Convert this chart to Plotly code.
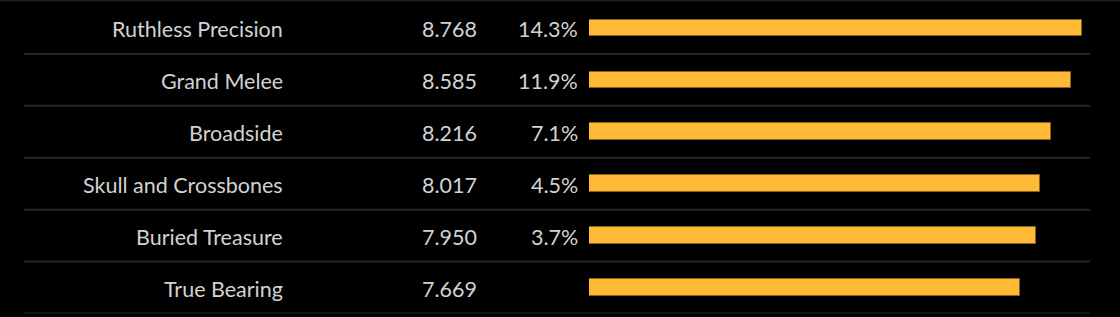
import plotly.graph_objects as go

names = ["Ruthless Precision", "Grand Melee", "Broadside", "Skull and Crossbones", "Buried Treasure", "True Bearing"]
values = [8.768, 8.585, 8.216, 8.017, 7.950, 7.669]
pct_labels = ["14.3%", "11.9%", "7.1%", "4.5%", "3.7%", ""]

W, H = 1120, 317
BAR_COLOR = "#FFBA35"
TEXT_COLOR = "#D2D2D2"
GRID = "#262626"
FONT = "Lato"
FS = 21.5

fig = go.Figure()
fig.add_trace(go.Bar(
    x=values, y=list(range(len(names))), orientation="h",
    width=0.32,
    marker=dict(color=BAR_COLOR, line=dict(color="#8a6220", width=1)),
    hoverinfo="skip",
))

top_px, bot_px = 2, 313.5
fig.update_layout(
    width=W, height=H,
    margin=dict(l=0, r=0, t=0, b=0),
    paper_bgcolor="#000000", plot_bgcolor="#000000",
    showlegend=False,
    bargap=0,
    xaxis=dict(range=[0, 8.915], domain=[589 / W, 1090 / W], visible=False, fixedrange=True),
    yaxis=dict(range=[len(names) - 0.5, -0.5], domain=[1 - bot_px / H, 1 - top_px / H],
               visible=False, fixedrange=True),
    font=dict(family=FONT, color=TEXT_COLOR),
)

# row separator lines
for i in range(len(names)):
    fig.add_shape(type="line", xref="paper", yref="y", x0=24 / W, x1=1090 / W,
                  y0=i + 0.5, y1=i + 0.5, line=dict(color=GRID, width=2), layer="below")
fig.add_shape(type="line", xref="paper", yref="paper", x0=0, x1=1, y0=1 - 0.5 / H, y1=1 - 0.5 / H,
              line=dict(color="#1c1c1c", width=2))

for i, (n, v, p) in enumerate(zip(names, values, pct_labels)):
    common = dict(xref="paper", y=i, yref="y", showarrow=False, xanchor="right", yanchor="middle",
                  yshift=-1, font=dict(size=FS, family=FONT, color=TEXT_COLOR))
    fig.add_annotation(x=285 / W, text=n, **common)
    fig.add_annotation(x=479 / W, text=f"{v:.3f}", **common)
    if p:
        fig.add_annotation(x=580 / W, text=p, **common)

fig.write_html("out.html", config={"displayModeBar": False})
